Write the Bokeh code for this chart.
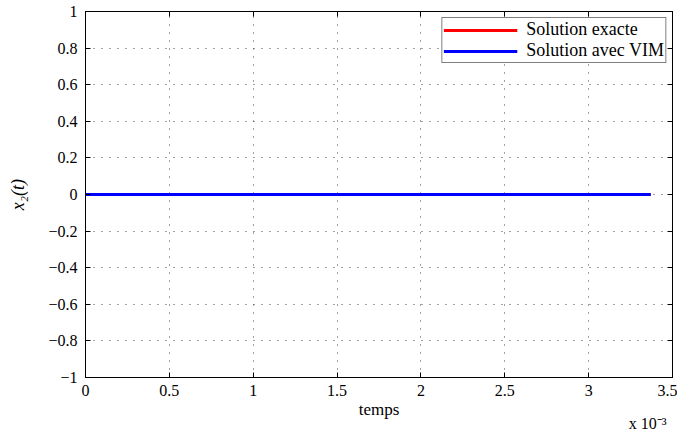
from bokeh.plotting import figure
from bokeh.models import (Range1d, LinearAxis, FixedTicker, CustomJSTickFormatter,
                          Title, Legend, LegendItem, Grid)
from bokeh.embed import file_html
from bokeh.resources import INLINE

# Data
t = [0.0, 0.00337]
x_exact = [0.0, 0.0]
x_vim = [0.0, 0.0]
x_ticks = [0, 0.0005, 0.001, 0.0015, 0.002, 0.0025, 0.003, 0.0035]
y_ticks = [-1, -0.8, -0.6, -0.4, -0.2, 0, 0.2, 0.4, 0.6, 0.8, 1]

FONT = "Liberation Serif"

p = figure(width=677, height=432, output_backend="svg", toolbar_location=None,
           x_range=Range1d(0, 0.0035), y_range=Range1d(-1, 1),
           min_border_left=85, min_border_right=5, min_border_top=11, min_border_bottom=55,
           x_axis_type=None, y_axis_type=None)
p.background_fill_color = "white"
p.border_fill_color = "white"
p.outline_line_color = "black"
p.outline_line_width = 1

xfmt = CustomJSTickFormatter(code="""
const v = Math.round(tick * 10000) / 10;
return v.toString();
""")
yfmt = CustomJSTickFormatter(code="""
const s = (Math.round(Math.abs(tick) * 10) / 10).toString();
return tick < -1e-9 ? '\\u2212' + s : s;
""")
blank = CustomJSTickFormatter(code="return '';")

def style(ax, size="16px"):
    ax.axis_line_color = "black"
    ax.major_tick_in = 5
    ax.major_tick_out = 0
    ax.minor_tick_line_color = None
    ax.major_tick_line_color = "black"
    ax.major_label_text_font = FONT
    ax.major_label_text_font_size = size
    ax.major_label_text_color = "black"
    ax.axis_label_text_font = FONT
    ax.axis_label_text_color = "black"
    ax.axis_label_text_font_style = "normal"

xb = LinearAxis(ticker=FixedTicker(ticks=x_ticks), formatter=xfmt,
                axis_label="temps")
style(xb)
xb.major_label_standoff = 7
xb.axis_label_standoff = 1
xb.axis_label_text_font_size = "17px"
p.add_layout(xb, "below")

yl = LinearAxis(ticker=FixedTicker(ticks=y_ticks), formatter=yfmt,
                axis_label="x\u2082(t)")
style(yl)
yl.major_label_standoff = 8
yl.axis_label_standoff = 17
yl.axis_label_text_font_size = "18px"
yl.axis_label_text_font_style = "italic"
p.add_layout(yl, "left")

xa = LinearAxis(ticker=FixedTicker(ticks=x_ticks), formatter=blank, major_label_standoff=0)
style(xa, size="1px")
p.add_layout(xa, "above")
yr = LinearAxis(ticker=FixedTicker(ticks=y_ticks), formatter=blank, major_label_standoff=0)
style(yr, size="1px")
p.add_layout(yr, "right")

gx = Grid(dimension=0, ticker=FixedTicker(ticks=x_ticks[1:-1]),
          grid_line_color="#444444", grid_line_dash="1 7", grid_line_width=1)
gy = Grid(dimension=1, ticker=FixedTicker(ticks=y_ticks[1:-1]),
          grid_line_color="#444444", grid_line_dash="1 7", grid_line_width=1)
p.add_layout(gx)
p.add_layout(gy)

r1 = p.line(t, x_exact, line_color="#ff0000", line_width=3)
r2 = p.line(t, x_vim, line_color="#0000ff", line_width=3)

legend = Legend(items=[LegendItem(label="Solution exacte", renderers=[r1]),
                       LegendItem(label="Solution avec VIM", renderers=[r2])],
                location="top_right")
legend.label_text_font = FONT
legend.label_text_font_size = "18px"
legend.label_text_color = "black"
legend.label_height = 12
legend.label_standoff = 9
legend.glyph_height = 12
legend.glyph_width = 74
legend.spacing = 0
legend.padding = 1
legend.margin = 6
legend.border_line_color = "black"
legend.border_line_width = 1.5
legend.background_fill_alpha = 1
p.add_layout(legend)

exp_title = Title(text="x 10\u207b\u00b3", align="right", text_font=FONT,
                  text_font_size="16px", text_font_style="normal", text_color="black",
                  standoff=-17, offset=6)
p.add_layout(exp_title, "below")

open("out.html", "w").write(file_html(p, INLINE))
